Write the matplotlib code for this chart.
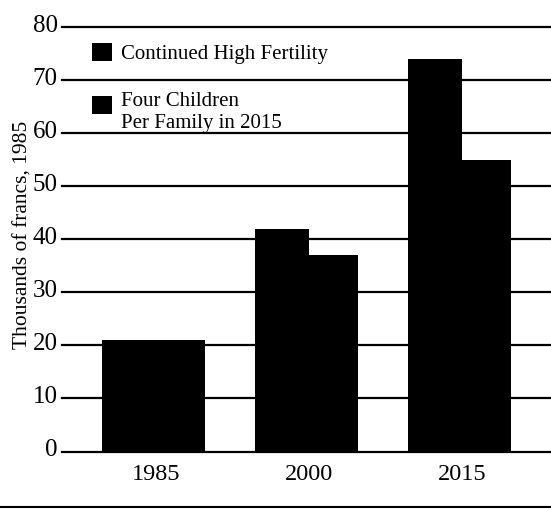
import matplotlib
matplotlib.use("Agg")
import matplotlib.pyplot as plt
import matplotlib.transforms as mtransforms
from matplotlib.lines import Line2D
from matplotlib.patches import Patch, Rectangle
from matplotlib.legend_handler import HandlerPatch

# values
years = ["1985", "2000", "2015"]
high_fertility = [21, 42, 74]
four_children = [21, 37, 55]
series_labels = ["Continued High Fertility", "Four Children\nPer Family in 2015"]
y_ticks = [0, 10, 20, 30, 40, 50, 60, 70, 80]

plt.rcParams["font.family"] = ["Liberation Serif", "DejaVu Serif"]

fig = plt.figure(figsize=(5.51, 5.09), dpi=100)
ax = fig.add_axes([62 / 551, 1 - 451.5 / 509, 489 / 551, 424.5 / 509])

x = list(range(len(years)))
ax.bar(x, high_fertility, width=-0.353, align="edge", color="black", zorder=2)
ax.bar(x, four_children, width=0.32, align="edge", color="black", zorder=2)

# horizontal rules at every tick
for t in y_ticks:
    ax.axhline(t, color="black", lw=1.6, zorder=1, clip_on=False)

ax.set_xlim(-0.614, 2.582)
ax.set_ylim(0, 80)
ax.set_xticks(x)
ax.set_xticklabels(years, fontsize=17.5)
ax.set_yticks(y_ticks)
ax.set_yticklabels([str(t) for t in y_ticks], fontsize=18)
ax.tick_params(length=0)
ax.tick_params(axis="y", pad=3)
ax.tick_params(axis="x", pad=9)
for s in ax.spines.values():
    s.set_visible(False)

# labels sit a little above their rules in the original
offset = mtransforms.ScaledTranslation(0, 4 / 100, fig.dpi_scale_trans)
for lab in ax.get_yticklabels():
    lab.set_transform(lab.get_transform() + offset)

ax.set_ylabel("Thousands of francs, 1985", fontsize=15.5)
ax.yaxis.set_label_coords(-0.06, 0.51)


# second legend square sits a bit above the middle of its two-line label
def raised_square(legend, orig_handle, xdescent, ydescent, width, height, fontsize):
    return Rectangle((-xdescent, -ydescent + 5.5), width, height)


handles = [Patch(facecolor="black"), Patch(facecolor="black")]
ax.legend(handles, series_labels, loc="upper left", bbox_to_anchor=(0.061, 0.962),
          frameon=False, fontsize=15, borderpad=0, borderaxespad=0,
          handlelength=0.95, handleheight=0.95, handletextpad=0.45,
          labelspacing=1.35,
          handler_map={handles[1]: HandlerPatch(patch_func=raised_square)})

fig.add_artist(Line2D([0, 1], [1 - 506.5 / 509] * 2, color="black", lw=1.5))

fig.savefig("out.png", dpi=100)
